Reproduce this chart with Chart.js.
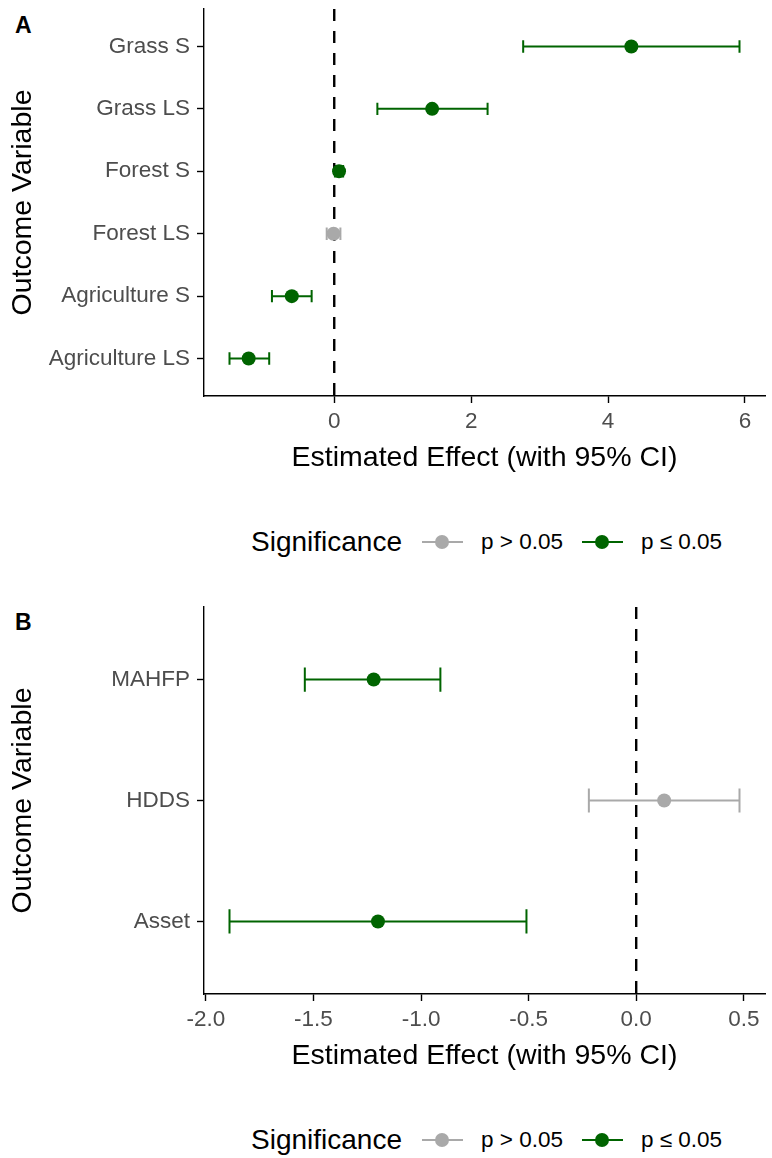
<!DOCTYPE html>
<html>
<head>
<meta charset="utf-8">
<script src="https://cdn.jsdelivr.net/npm/chart.js@4.4.0/dist/chart.umd.min.js"></script>
<style>
  body { margin: 0; width: 772px; height: 1158px; position: relative; background: #fff; overflow: hidden;
         font-family: "Liberation Sans", Arial, sans-serif; }
  canvas.panel { position: absolute; left: 0; }
  .tag { position: absolute; left: 15px; font-size: 23px; font-weight: bold; line-height: 1; }
  .legend { position: absolute; left: 251px; height: 40px; display: flex; align-items: center; color: #000; }
  .legend .ltitle { font-size: 28px; margin-right: 20px; }
  .legend .key { position: relative; width: 41px; height: 2px; margin-right: 18px; }
  .legend .key::after { content: ''; position: absolute; left: 13.5px; top: -6px; width: 14px; height: 14px;
                        border-radius: 50%; background: inherit; }
  .legend .key.grey { background: #A9A9A9; }
  .legend .key.green { background: #006400; }
  .legend .ltext { font-size: 22.5px; margin-right: 19px; }
</style>
</head>
<body>
<div class="tag" style="top:14px">A</div>
<canvas id="chartA" class="panel" width="772" height="475" style="top:0"></canvas>
<div class="legend" style="top:522px">
  <span class="ltitle">Significance</span>
  <span class="key grey"></span><span class="ltext">p &gt; 0.05</span>
  <span class="key green"></span><span class="ltext">p ≤ 0.05</span>
</div>

<div class="tag" style="top:611px">B</div>
<canvas id="chartB" class="panel" width="772" height="475" style="top:598px"></canvas>
<div class="legend" style="top:1120px">
  <span class="ltitle">Significance</span>
  <span class="key grey"></span><span class="ltext">p &gt; 0.05</span>
  <span class="key green"></span><span class="ltext">p ≤ 0.05</span>
</div>

<script>
const FONT = '"Liberation Sans", Arial, sans-serif';
const GREEN = '#006400';
const GREY = '#A9A9A9';

// Panel A - land cover outcomes (top to bottom)
const outcomesA = ['Grass S', 'Grass LS', 'Forest S', 'Forest LS', 'Agriculture S', 'Agriculture LS'];
const estimateA = [4.34, 1.43, 0.07, -0.01, -0.62, -1.25];
const lowerA = [2.76, 0.63, 0.01, -0.11, -0.91, -1.53];
const upperA = [5.92, 2.24, 0.13, 0.09, -0.33, -0.95];
const significantA = [true, true, true, false, true, true];
const xTicksA = [0, 2, 4, 6];
const xLabelsA = ['0', '2', '4', '6'];

// Panel B - household outcomes (top to bottom)
const outcomesB = ['MAHFP', 'HDDS', 'Asset'];
const estimateB = [-1.22, 0.13, -1.20];
const lowerB = [-1.54, -0.22, -1.89];
const upperB = [-0.91, 0.48, -0.51];
const significantB = [true, false, true];
const xTicksB = [-2, -1.5, -1, -0.5, 0, 0.5];
const xLabelsB = ['-2.0', '-1.5', '-1.0', '-0.5', '0.0', '0.5'];

// error bars + dashed zero line, drawn under the points
function errorBarPlugin(lower, upper, sig) {
    return {
        id: 'errorBars',
        beforeDatasetsDraw(chart) {
            const { ctx, chartArea, scales: { x, y } } = chart;
            const n = lower.length;
            ctx.save();
            ctx.lineWidth = 2;
            lower.forEach((lo, i) => {
                const yv = n - i;
                const x1 = x.getPixelForValue(lo);
                const x2 = x.getPixelForValue(upper[i]);
                const py = y.getPixelForValue(yv);
                const top = y.getPixelForValue(yv + 0.1);
                const bottom = y.getPixelForValue(yv - 0.1);
                ctx.strokeStyle = sig[i] ? GREEN : GREY;
                ctx.beginPath();
                ctx.moveTo(x1, py); ctx.lineTo(x2, py);
                ctx.moveTo(x1, top); ctx.lineTo(x1, bottom);
                ctx.moveTo(x2, top); ctx.lineTo(x2, bottom);
                ctx.stroke();
            });
            const x0 = x.getPixelForValue(0);
            ctx.strokeStyle = '#000';
            ctx.lineWidth = 2.4;
            ctx.setLineDash([12, 10]);
            ctx.beginPath();
            ctx.moveTo(x0, chartArea.top);
            ctx.lineTo(x0, chartArea.bottom);
            ctx.stroke();
            ctx.restore();
        }
    };
}

function buildForest(canvasId, outcomes, estimate, lower, upper, sig, xTicks, xLabels) {
    const n = outcomes.length;
    const lo = Math.min(...lower), hi = Math.max(...upper);
    const pad = (hi - lo) * 0.05;

    new Chart(document.getElementById(canvasId), {
        type: 'scatter',
        data: {
            datasets: [{
                data: estimate.map((v, i) => ({ x: v, y: n - i })),
                pointRadius: 7,
                pointHoverRadius: 7,
                pointBorderWidth: 0,
                pointBackgroundColor: sig.map(s => s ? GREEN : GREY),
                borderColor: 'transparent'
            }]
        },
        options: {
            responsive: false,
            animation: false,
            events: [],
            layout: { padding: { top: 9, right: 3, bottom: 0, left: 0 } },
            plugins: { legend: { display: false }, tooltip: { enabled: false } },
            scales: {
                x: {
                    type: 'linear',
                    min: lo - pad,
                    max: hi + pad,
                    afterBuildTicks: s => { s.ticks = xTicks.map(v => ({ value: v })); },
                    afterFit: s => { s.height = 79; s.paddingLeft = 0; s.paddingRight = 0; },
                    ticks: {
                        callback: (v, i) => xLabels[i],
                        color: '#4D4D4D',
                        font: { family: FONT, size: 22.5 },
                        padding: 5,
                        maxRotation: 0,
                        autoSkip: false
                    },
                    grid: { drawOnChartArea: false, drawTicks: true, tickLength: 7, tickWidth: 1.4, tickColor: '#000' },
                    border: { color: '#000', width: 1.4 },
                    title: {
                        display: true,
                        text: 'Estimated Effect (with 95% CI)',
                        color: '#000',
                        font: { family: FONT, size: 28.5 },
                        padding: { top: 0, bottom: 0 }
                    }
                },
                y: {
                    type: 'linear',
                    min: 0.4,
                    max: n + 0.6,
                    afterBuildTicks: s => { s.ticks = outcomes.map((_, i) => ({ value: n - i })); },
                    afterFit: s => { s.width = 204; s.paddingTop = 0; s.paddingBottom = 0; },
                    ticks: {
                        callback: v => outcomes[n - v],
                        color: '#4D4D4D',
                        font: { family: FONT, size: 22.5 },
                        padding: 7,
                        autoSkip: false
                    },
                    grid: { drawOnChartArea: false, drawTicks: true, tickLength: 7, tickWidth: 1.4, tickColor: '#000' },
                    border: { color: '#000', width: 1.4 },
                    title: {
                        display: true,
                        text: 'Outcome Variable',
                        color: '#000',
                        font: { family: FONT, size: 28.5 },
                        padding: { top: 6, bottom: 0 }
                    }
                }
            }
        },
        plugins: [errorBarPlugin(lower, upper, sig)]
    });
}

buildForest('chartA', outcomesA, estimateA, lowerA, upperA, significantA, xTicksA, xLabelsA);
buildForest('chartB', outcomesB, estimateB, lowerB, upperB, significantB, xTicksB, xLabelsB);
</script>
</body>
</html>
